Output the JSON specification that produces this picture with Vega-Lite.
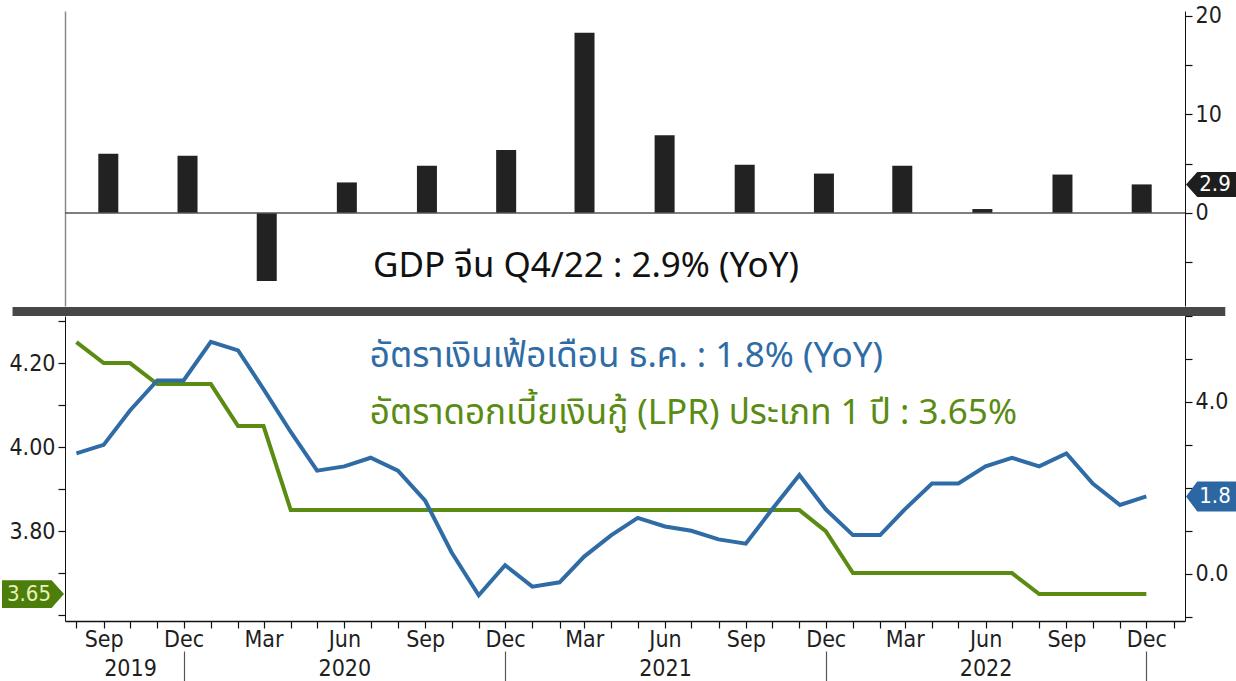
{
  "$schema": "https://vega.github.io/schema/vega-lite/v6.json",
  "background": "white",
  "padding": {"left": 2, "top": 4, "right": 0, "bottom": 0},
  "bounds": "flush",
  "spacing": 10,
  "datasets": {
    "gdp": [
      {"date": "2019-09-01", "value": 6.0},
      {"date": "2019-12-01", "value": 5.8},
      {"date": "2020-03-01", "value": -6.9},
      {"date": "2020-06-01", "value": 3.1},
      {"date": "2020-09-01", "value": 4.8},
      {"date": "2020-12-01", "value": 6.4},
      {"date": "2021-03-01", "value": 18.3},
      {"date": "2021-06-01", "value": 7.9},
      {"date": "2021-09-01", "value": 4.9},
      {"date": "2021-12-01", "value": 4.0},
      {"date": "2022-03-01", "value": 4.8},
      {"date": "2022-06-01", "value": 0.4},
      {"date": "2022-09-01", "value": 3.9},
      {"date": "2022-12-01", "value": 2.9}
    ],
    "cpi": [
      {"date": "2019-08-01", "value": 2.8},
      {"date": "2019-09-01", "value": 3.0},
      {"date": "2019-10-01", "value": 3.8},
      {"date": "2019-11-01", "value": 4.5},
      {"date": "2019-12-01", "value": 4.5},
      {"date": "2020-01-01", "value": 5.4},
      {"date": "2020-02-01", "value": 5.2},
      {"date": "2020-03-01", "value": 4.3},
      {"date": "2020-04-01", "value": 3.3},
      {"date": "2020-05-01", "value": 2.4},
      {"date": "2020-06-01", "value": 2.5},
      {"date": "2020-07-01", "value": 2.7},
      {"date": "2020-08-01", "value": 2.4},
      {"date": "2020-09-01", "value": 1.7},
      {"date": "2020-10-01", "value": 0.5},
      {"date": "2020-11-01", "value": -0.5},
      {"date": "2020-12-01", "value": 0.2},
      {"date": "2021-01-01", "value": -0.3},
      {"date": "2021-02-01", "value": -0.2},
      {"date": "2021-03-01", "value": 0.4},
      {"date": "2021-04-01", "value": 0.9},
      {"date": "2021-05-01", "value": 1.3},
      {"date": "2021-06-01", "value": 1.1},
      {"date": "2021-07-01", "value": 1.0},
      {"date": "2021-08-01", "value": 0.8},
      {"date": "2021-09-01", "value": 0.7},
      {"date": "2021-10-01", "value": 1.5},
      {"date": "2021-11-01", "value": 2.3},
      {"date": "2021-12-01", "value": 1.5},
      {"date": "2022-01-01", "value": 0.9},
      {"date": "2022-02-01", "value": 0.9},
      {"date": "2022-03-01", "value": 1.5},
      {"date": "2022-04-01", "value": 2.1},
      {"date": "2022-05-01", "value": 2.1},
      {"date": "2022-06-01", "value": 2.5},
      {"date": "2022-07-01", "value": 2.7},
      {"date": "2022-08-01", "value": 2.5},
      {"date": "2022-09-01", "value": 2.8},
      {"date": "2022-10-01", "value": 2.1},
      {"date": "2022-11-01", "value": 1.6},
      {"date": "2022-12-01", "value": 1.8}
    ],
    "lpr": [
      {"date": "2019-08-01", "value": 4.25},
      {"date": "2019-09-01", "value": 4.20},
      {"date": "2019-10-01", "value": 4.20},
      {"date": "2019-11-01", "value": 4.15},
      {"date": "2019-12-01", "value": 4.15},
      {"date": "2020-01-01", "value": 4.15},
      {"date": "2020-02-01", "value": 4.05},
      {"date": "2020-03-01", "value": 4.05},
      {"date": "2020-04-01", "value": 3.85},
      {"date": "2020-05-01", "value": 3.85},
      {"date": "2020-06-01", "value": 3.85},
      {"date": "2020-07-01", "value": 3.85},
      {"date": "2020-08-01", "value": 3.85},
      {"date": "2020-09-01", "value": 3.85},
      {"date": "2020-10-01", "value": 3.85},
      {"date": "2020-11-01", "value": 3.85},
      {"date": "2020-12-01", "value": 3.85},
      {"date": "2021-01-01", "value": 3.85},
      {"date": "2021-02-01", "value": 3.85},
      {"date": "2021-03-01", "value": 3.85},
      {"date": "2021-04-01", "value": 3.85},
      {"date": "2021-05-01", "value": 3.85},
      {"date": "2021-06-01", "value": 3.85},
      {"date": "2021-07-01", "value": 3.85},
      {"date": "2021-08-01", "value": 3.85},
      {"date": "2021-09-01", "value": 3.85},
      {"date": "2021-10-01", "value": 3.85},
      {"date": "2021-11-01", "value": 3.85},
      {"date": "2021-12-01", "value": 3.80},
      {"date": "2022-01-01", "value": 3.70},
      {"date": "2022-02-01", "value": 3.70},
      {"date": "2022-03-01", "value": 3.70},
      {"date": "2022-04-01", "value": 3.70},
      {"date": "2022-05-01", "value": 3.70},
      {"date": "2022-06-01", "value": 3.70},
      {"date": "2022-07-01", "value": 3.70},
      {"date": "2022-08-01", "value": 3.65},
      {"date": "2022-09-01", "value": 3.65},
      {"date": "2022-10-01", "value": 3.65},
      {"date": "2022-11-01", "value": 3.65},
      {"date": "2022-12-01", "value": 3.65}
    ]
  },
  "vconcat": [
    {
      "width": 1120,
      "height": 295,
      "layer": [
        {
          "data": {"name": "gdp"},
          "mark": {"type": "bar", "width": 20, "color": "#222222"},
          "encoding": {
            "x": {"field": "date", "type": "temporal", "axis": null,
              "scale": {"type": "utc", "domain": [{"year": 2019, "month": 7, "date": 19, "utc": true}, {"year": 2023, "month": 1, "date": 14, "utc": true}]}},
            "y": {"field": "value", "type": "quantitative",
              "scale": {"domain": [-9.44, 20.5], "nice": false, "zero": false},
              "axis": {"orient": "right", "title": null, "values": [-5, 0, 5, 10, 15, 20], "labelExpr": "datum.value % 10 == 0 ? datum.label : ''"}}
          }
        },
        {
          "data": {"values": [{}]},
          "mark": {"type": "rule", "color": "#555555", "strokeWidth": 1.5},
          "encoding": {
            "y": {"datum": 0, "type": "quantitative",
              "scale": {"domain": [-9.44, 20.5], "nice": false, "zero": false},
              "axis": {"orient": "left", "title": null, "labels": false, "ticks": false, "domain": true, "domainColor": "#8a8a8a", "domainWidth": 1.5}}
          }
        },
        {
          "data": {"values": [{}]},
          "mark": {"type": "rule", "color": "#474747", "strokeWidth": 9},
          "encoding": {
            "x": {"datum": {"year": 2019, "month": 5, "date": 14, "utc": true}, "type": "temporal",
              "scale": {"type": "utc", "domain": [{"year": 2019, "month": 7, "date": 19, "utc": true}, {"year": 2023, "month": 1, "date": 14, "utc": true}]}, "axis": null},
            "x2": {"datum": {"year": 2023, "month": 3, "date": 7, "utc": true}},
            "y": {"datum": -10.0, "type": "quantitative",
              "scale": {"domain": [-9.44, 20.5], "nice": false, "zero": false}, "axis": null}
          }
        },
        {
          "data": {"name": "gdp"},
          "transform": [{"filter": "time(toDate(datum.date)) == utc(2022, 11, 1)"}],
          "mark": {"type": "point", "filled": true, "opacity": 1, "color": "#1e1e1e", "size": 2500, "xOffset": 26,
            "shape": "M-1,0L-0.55,-0.5L1,-0.5L1,0.5L-0.55,0.5Z"},
          "encoding": {
            "x": {"value": "width"},
            "y": {"field": "value", "type": "quantitative",
              "scale": {"domain": [-9.44, 20.5], "nice": false, "zero": false}, "axis": null}
          }
        },
        {
          "data": {"name": "gdp"},
          "transform": [{"filter": "time(toDate(datum.date)) == utc(2022, 11, 1)"}],
          "mark": {"type": "text", "color": "#ffffff", "fontSize": 22, "font": "DejaVu Sans Condensed", "align": "center", "baseline": "middle", "xOffset": 30},
          "encoding": {
            "x": {"value": "width"},
            "y": {"field": "value", "type": "quantitative",
              "scale": {"domain": [-9.44, 20.5], "nice": false, "zero": false}, "axis": null},
            "text": {"field": "value", "type": "quantitative", "format": ".1f"}
          }
        },
        {
          "data": {"values": [{}]},
          "mark": {"type": "text", "text": "GDP จีน Q4/22 : 2.9% (YoY)", "color": "#111111", "fontSize": 35, "font": "Noto Sans Thai, Noto Sans, sans-serif", "align": "left", "baseline": "middle"},
          "encoding": {
            "x": {"datum": {"year": 2020, "month": 7, "date": 1, "utc": true}, "type": "temporal",
              "scale": {"type": "utc", "domain": [{"year": 2019, "month": 7, "date": 19, "utc": true}, {"year": 2023, "month": 1, "date": 14, "utc": true}]}, "axis": null},
            "y": {"datum": -5.4, "type": "quantitative",
              "scale": {"domain": [-9.44, 20.5], "nice": false, "zero": false}, "axis": null}
          }
        }
      ],
      "resolve": {"scale": {"y": "independent"}, "axis": {"y": "independent"}}
    },
    {
      "width": 1120,
      "height": 305,
      "layer": [
        {
          "data": {"name": "lpr"},
          "mark": {"type": "line", "color": "#5a8b12", "strokeWidth": 4},
          "encoding": {
            "x": {"field": "date", "type": "temporal",
              "scale": {"type": "utc", "domain": [{"year": 2019, "month": 7, "date": 19, "utc": true}, {"year": 2023, "month": 1, "date": 14, "utc": true}]},
              "axis": {"orient": "bottom", "title": null, "tickCount": {"interval": "month", "step": 1}, "labelOverlap": false, "labelFlush": false, "labelBound": false,
                "labelLineHeight": 29, "labelPadding": 0, "domainWidth": 1.5,
                "labelExpr": "utcmonth(datum.value) == 5 ? ['Jun', '' + utcyear(datum.value)] : utcmonth(datum.value) % 3 == 2 ? [utcFormat(datum.value, '%b'), ''] : (utcyear(datum.value) == 2019 && utcmonth(datum.value) == 9) ? ['', '2019'] : ''"}},
            "y": {"field": "value", "type": "quantitative",
              "scale": {"domain": [3.586, 4.312], "nice": false, "zero": false},
              "axis": {"orient": "left", "title": null, "values": [3.6, 3.7, 3.8, 3.9, 4.0, 4.1, 4.2, 4.3],
                "labelExpr": "round(datum.value * 10) % 2 == 0 && round(datum.value * 10) != 36 ? format(datum.value, '.2f') : ''"}}
          }
        },
        {
          "data": {"name": "cpi"},
          "mark": {"type": "line", "color": "#2f6ca6", "strokeWidth": 4},
          "encoding": {
            "x": {"field": "date", "type": "temporal",
              "scale": {"type": "utc", "domain": [{"year": 2019, "month": 7, "date": 19, "utc": true}, {"year": 2023, "month": 1, "date": 14, "utc": true}]},
              "axis": {"orient": "bottom", "title": null, "labels": false, "domain": false, "tickSize": 31, "offset": 30, "tickColor": "#555555",
                "values": [{"year": 2019, "month": 12, "date": 1, "utc": true}, {"year": 2020, "month": 12, "date": 1, "utc": true}, {"year": 2021, "month": 12, "date": 1, "utc": true}, {"year": 2022, "month": 12, "date": 1, "utc": true}]}},
            "y": {"field": "value", "type": "quantitative",
              "scale": {"domain": [-1.1, 6.0], "nice": false, "zero": false},
              "axis": {"orient": "right", "title": null, "values": [-1, 0, 1, 2, 3, 4, 5, 6],
                "labelExpr": "datum.value == 0 || datum.value == 4 ? format(datum.value, '.1f') : ''"}}
          }
        },
        {
          "data": {"name": "lpr"},
          "transform": [{"filter": "time(toDate(datum.date)) == utc(2022, 11, 1)"}],
          "mark": {"type": "point", "filled": true, "opacity": 1, "color": "#4d7e0c", "size": 3844, "xOffset": -32,
            "shape": "M1,0L0.6,-0.45L-1,-0.45L-1,0.45L0.6,0.45Z"},
          "encoding": {
            "x": {"value": 0},
            "y": {"field": "value", "type": "quantitative",
              "scale": {"domain": [3.586, 4.312], "nice": false, "zero": false}, "axis": null}
          }
        },
        {
          "data": {"name": "lpr"},
          "transform": [{"filter": "time(toDate(datum.date)) == utc(2022, 11, 1)"}],
          "mark": {"type": "text", "color": "#e6f2b8", "fontSize": 22, "font": "DejaVu Sans Condensed", "align": "center", "baseline": "middle", "xOffset": -36},
          "encoding": {
            "x": {"value": 0},
            "y": {"field": "value", "type": "quantitative",
              "scale": {"domain": [3.586, 4.312], "nice": false, "zero": false}, "axis": null},
            "text": {"field": "value", "type": "quantitative", "format": ".2f"}
          }
        },
        {
          "data": {"name": "cpi"},
          "transform": [{"filter": "time(toDate(datum.date)) == utc(2022, 11, 1)"}],
          "mark": {"type": "point", "filled": true, "opacity": 1, "color": "#2c66a3", "size": 2500, "xOffset": 26,
            "shape": "M-1,0L-0.55,-0.6L1,-0.6L1,0.6L-0.55,0.6Z"},
          "encoding": {
            "x": {"value": "width"},
            "y": {"field": "value", "type": "quantitative",
              "scale": {"domain": [-1.1, 6.0], "nice": false, "zero": false}, "axis": null}
          }
        },
        {
          "data": {"name": "cpi"},
          "transform": [{"filter": "time(toDate(datum.date)) == utc(2022, 11, 1)"}],
          "mark": {"type": "text", "color": "#ffffff", "fontSize": 22, "font": "DejaVu Sans Condensed", "align": "center", "baseline": "middle", "xOffset": 30},
          "encoding": {
            "x": {"value": "width"},
            "y": {"field": "value", "type": "quantitative",
              "scale": {"domain": [-1.1, 6.0], "nice": false, "zero": false}, "axis": null},
            "text": {"field": "value", "type": "quantitative", "format": ".1f"}
          }
        },
        {
          "data": {"values": [{}]},
          "mark": {"type": "text", "text": "อัตราเงินเฟ้อเดือน ธ.ค. : 1.8% (YoY)", "color": "#2f6ca6", "fontSize": 35, "font": "Noto Sans Thai, Noto Sans, sans-serif", "align": "left", "baseline": "middle"},
          "encoding": {
            "x": {"datum": {"year": 2020, "month": 6, "date": 30, "utc": true}, "type": "temporal",
              "scale": {"type": "utc", "domain": [{"year": 2019, "month": 7, "date": 19, "utc": true}, {"year": 2023, "month": 1, "date": 14, "utc": true}]}, "axis": null},
            "y": {"datum": 4.217, "type": "quantitative",
              "scale": {"domain": [3.586, 4.312], "nice": false, "zero": false}, "axis": null}
          }
        },
        {
          "data": {"values": [{}]},
          "mark": {"type": "text", "text": "อัตราดอกเบี้ยเงินกู้ (LPR) ประเภท 1 ปี : 3.65%", "color": "#5a8b12", "fontSize": 35, "font": "Noto Sans Thai, Noto Sans, sans-serif", "align": "left", "baseline": "middle"},
          "encoding": {
            "x": {"datum": {"year": 2020, "month": 6, "date": 30, "utc": true}, "type": "temporal",
              "scale": {"type": "utc", "domain": [{"year": 2019, "month": 7, "date": 19, "utc": true}, {"year": 2023, "month": 1, "date": 14, "utc": true}]}, "axis": null},
            "y": {"datum": 4.081, "type": "quantitative",
              "scale": {"domain": [3.586, 4.312], "nice": false, "zero": false}, "axis": null}
          }
        }
      ],
      "resolve": {"scale": {"y": "independent"}, "axis": {"x": "independent", "y": "independent"}}
    }
  ],
  "config": {
    "view": {"stroke": null},
    "axis": {"grid": false, "labelFont": "DejaVu Sans Condensed", "labelFontSize": 23, "labelColor": "#1e1e1e",
      "tickColor": "#111111", "domainColor": "#111111", "tickSize": 7, "tickWidth": 1.2, "labelPadding": 3}
  }
}
